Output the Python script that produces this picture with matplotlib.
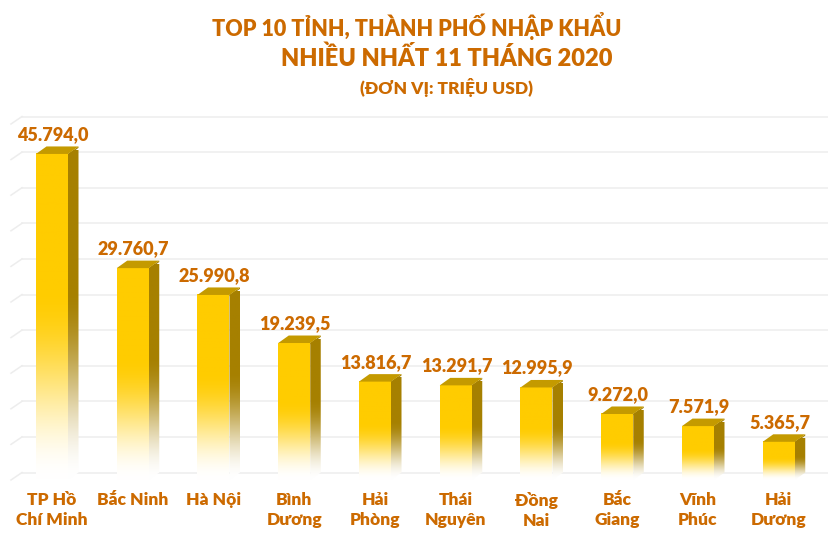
import numpy as np
import matplotlib
matplotlib.use("Agg")
import matplotlib.pyplot as plt
from matplotlib.patches import Polygon
from matplotlib.colors import to_rgb

categories = ["TP Hồ\nChí Minh", "Bắc Ninh", "Hà Nội", "Bình\nDương", "Hải\nPhòng",
              "Thái\nNguyên", "Đồng\nNai", "Bắc\nGiang", "Vĩnh\nPhúc", "Hải\nDương"]
values = [45794.0, 29760.7, 25990.8, 19239.5, 13816.7, 13291.7, 12995.9, 9272.0, 7571.9, 5365.7]
title_lines = ["TOP 10 TỈNH, THÀNH PHỐ NHẬP KHẨU", "NHIỀU NHẤT 11 THÁNG 2020"]
subtitle = "(ĐƠN VỊ: TRIỆU USD)"

FONT = ["Lato", "DejaVu Sans"]
WEIGHT = "heavy"
LABEL_C = "#CC6A00"
FRONT_C = "#FFCC00"
SIDE_C = "#A68000"
TOP_C = "#C49A00"
GRID_C = "#EDEDED"

W, H = 829, 538
fig = plt.figure(figsize=(W / 100, H / 100), dpi=100)
fig.patch.set_facecolor("white")

px0, spacing = 52.0, 80.75
y_bottom_px, y_top_px = 480.0, 124.0
ymax = 50000.0
ax = fig.add_axes([0, (H - y_bottom_px) / H, 1, (y_bottom_px - y_top_px) / H])
ax.axis("off")

ppx = spacing
ppy = (y_bottom_px - y_top_px) / ymax
bw = 32 / ppx
dxd = 10.5 / ppx
dyd = 7.5 / ppy
xlim = (-px0 / spacing, (W - px0) / spacing)

xl_front = (11 - px0) / ppx
xl_back = (22 - px0) / ppx
for g in np.arange(0, ymax + 1, 5000):
    ax.plot([xl_front, xl_back], [g, g + dyd], color=GRID_C, lw=1.1, zorder=1, clip_on=False)
    ax.plot([xl_back, xlim[1]], [g + dyd, g + dyd], color=GRID_C, lw=1.1, zorder=1, clip_on=False)


def grad_img(base, n=256, start=0.42):
    b = np.array(to_rgb(base))
    t = np.linspace(0, 1, n)
    s = np.clip((t - start) / (1 - start), 0, 1)
    f = s * s * (3 - 2 * s)
    f = 0.97 * f + 0.03 * s
    rgb = b[None, :] * (1 - f[:, None]) + np.ones(3)[None, :] * f[:, None]
    return rgb[:, None, :]


for i, (cat, v) in enumerate(zip(categories, values)):
    x0 = i - bw / 2
    x1 = i + bw / 2
    side = Polygon([(x1, 0), (x1 + dxd, dyd), (x1 + dxd, v + dyd), (x1, v)],
                   closed=True, facecolor="none", edgecolor="none")
    ax.add_patch(side)
    im = ax.imshow(grad_img(SIDE_C), extent=[x1, x1 + dxd, 0, v + dyd * 0.5], aspect="auto",
                   interpolation="bilinear", zorder=3)
    im.set_clip_path(side)
    ax.add_patch(Polygon([(x1, v - 200), (x1 + dxd, v + dyd - 200), (x1 + dxd, v + dyd), (x1, v)],
                         closed=True, facecolor=SIDE_C, edgecolor="none", zorder=3))
    ax.imshow(grad_img(FRONT_C), extent=[x0, x1, 0, v], aspect="auto",
              interpolation="bilinear", zorder=4)
    ax.add_patch(Polygon([(x0, v), (x1, v), (x1 + dxd, v + dyd), (x0 + dxd, v + dyd)],
                         closed=True, facecolor=TOP_C, edgecolor="none", zorder=5))
    lbl = f"{v:,.1f}".replace(",", "X").replace(".", ",").replace("X", ".")
    ax.text(i + 0.01, v + dyd + 3.5 / ppy, lbl, ha="center", va="bottom",
            fontsize=13, fontweight=WEIGHT, color=LABEL_C, family=FONT, zorder=6,
            clip_on=False)
    ax.text(i, -12 / ppy, cat, ha="center", va="top", fontsize=12.5, fontweight=WEIGHT,
            color=LABEL_C, family=FONT, linespacing=1.3, clip_on=False)

ax.set_xlim(*xlim)
ax.set_ylim(0, ymax)

fig.text(417 / W, 1 - 12 / H, title_lines[0], ha="center", va="top", fontsize=15.5,
         fontweight=WEIGHT, color=LABEL_C, family=FONT)
fig.text(447 / W, 1 - 46 / H, title_lines[1], ha="center", va="top", fontsize=17,
         fontweight=WEIGHT, color=LABEL_C, family=FONT)
fig.text(447 / W, 1 - 78 / H, subtitle, ha="center", va="top", fontsize=12.5,
         fontweight=WEIGHT, color=LABEL_C, family=FONT)

fig.savefig("out.png", dpi=100, facecolor="white")
